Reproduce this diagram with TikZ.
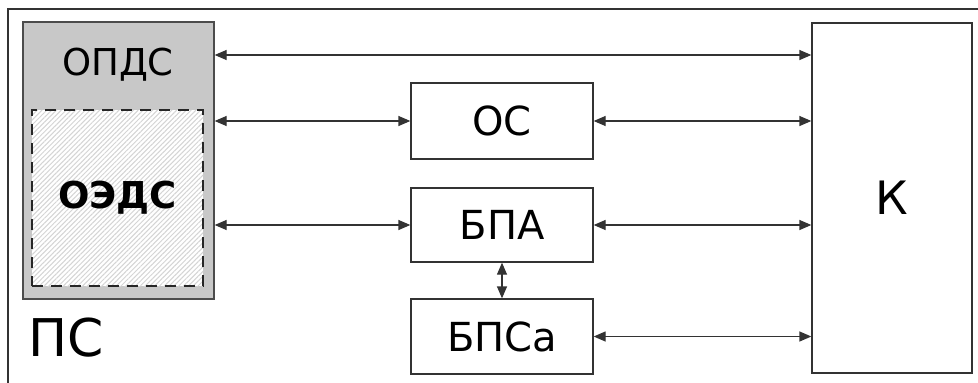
\documentclass[tikz,border=0pt]{standalone}
\usepackage{fontspec}
\setmainfont{DejaVu Sans}
\usetikzlibrary{calc,arrows.meta,patterns.meta}
\definecolor{psgray}{RGB}{200,200,200}
\definecolor{hatchgray}{RGB}{212,212,212}

\begin{document}
\begin{tikzpicture}[x=1pt,y=-1pt,line width=1.3pt,
  blk/.style={draw=black!80,rectangle,inner sep=0pt,fill=white,
    font=\fontsize{40}{48}\selectfont},
  psnode/.style={draw=black!70,fill=psgray,rectangle,inner sep=0pt},
  hatch/.style={draw=black!85,line width=2.4pt,dash pattern=on 11pt off 8pt,
    preaction={fill=white},
    pattern={Lines[angle=45,distance=3.4pt,line width=1pt]},pattern color=hatchgray,
    rectangle,inner sep=0pt,font=\bfseries\fontsize{37}{44}\selectfont},
  link/.style={{Triangle[length=12pt,width=10pt]}-{Triangle[length=12pt,width=10pt]},
    line width=1.3pt,draw=black!80}]

  \useasboundingbox (0,0) rectangle (978,383);
  % outer frame (cut at right and bottom)
  \draw[draw=black!80] (978,9) -- (8,9) -- (8,383);

  % PS block
  \node[psnode,minimum width=191pt,minimum height=277pt] (ps) at (118.5,160.5) {};
  \node[anchor=base,font=\fontsize{37}{44}\selectfont] (opds) at (118,75) {ОПДС};
  \node[hatch,minimum width=171pt,minimum height=176pt] (oeds) at (117.5,198) {ОЭДС};
  \node[anchor=base west,font=\fontsize{52}{62}\selectfont,inner sep=0pt] (pslbl) at (28,356) {ПС};

  % middle blocks
  \node[blk,minimum width=182pt,minimum height=76pt] (os) at (502,121) {ОС};
  \node[blk,minimum width=182pt,minimum height=74pt] (bpa) at (502,225) {БПА};
  \node[blk,minimum width=182pt,minimum height=75pt] (bpsa) at (502,336.5) {БПСа};

  % K block
  \node[blk,minimum width=160pt,minimum height=350pt,
    font=\fontsize{46}{55}\selectfont] (k) at (892,198) {К};

  \coordinate (row1) at (0,55);

  \draw[link] (ps.east |- row1) -- (k.west |- row1);
  \draw[link] (ps.east |- os) -- (os.west);
  \draw[link] (os.east) -- (k.west |- os);
  \draw[link] (ps.east |- bpa) -- (bpa.west);
  \draw[link] (bpa.east) -- (k.west |- bpa);
  \draw[link] (bpsa.east) -- (k.west |- bpsa);
  \draw[link] (bpa.south) -- (bpsa.north);
\end{tikzpicture}
\end{document}
